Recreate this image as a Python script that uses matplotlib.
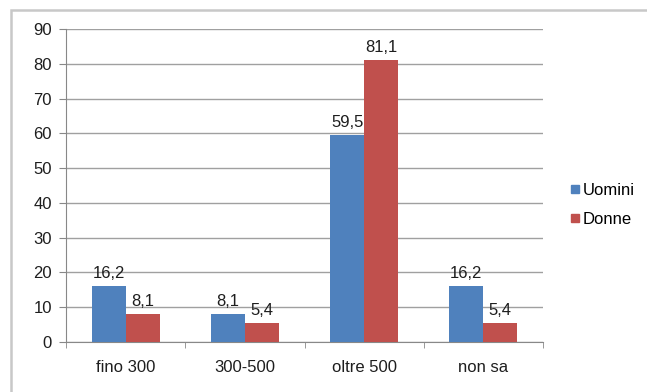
import matplotlib
matplotlib.use("Agg")
import matplotlib.pyplot as plt
import numpy as np
from matplotlib.patches import Rectangle
from matplotlib.lines import Line2D

plt.rcParams['font.family'] = ['Liberation Sans', 'DejaVu Sans']

categories = ["fino 300", "300-500", "oltre 500", "non sa"]
uomini = [16.2, 8.1, 59.5, 16.2]
donne = [8.1, 5.4, 81.1, 5.4]
series_names = ["Uomini", "Donne"]
colors = ["#4F81BD", "#C0504D"]
y_ticks = list(range(0, 91, 10))

FS = 12
TXT = "#1e1e1e"

fig = plt.figure(figsize=(6.47, 3.92), dpi=100)

# Chart frame
fig.patches.append(Rectangle((11 / 647, -0.1), 1.2, (392 - 10) / 392 + 0.1,
                             transform=fig.transFigure, fill=False,
                             edgecolor="#c8c8c8", linewidth=1.8, zorder=0))

ax = fig.add_axes([66 / 647, 50 / 392, 477 / 647, 313 / 392])

x = np.arange(len(categories))
w = 0.285
bars_u = ax.bar(x - w / 2, uomini, w, color=colors[0], zorder=3)
bars_d = ax.bar(x + w / 2, donne, w, color=colors[1], zorder=3)

for bars, vals in ((bars_u, uomini), (bars_d, donne)):
    for b, v in zip(bars, vals):
        ax.annotate(f"{v:.1f}".replace(".", ","),
                    (b.get_x() + b.get_width() / 2, v),
                    xytext=(0, 3.5), textcoords="offset points",
                    ha="center", va="bottom", fontsize=FS, color=TXT)

ax.set_xlim(-0.5, len(categories) - 0.5)
ax.set_ylim(0, 90)
ax.set_yticks(y_ticks)
ax.set_yticklabels([str(t) for t in y_ticks], fontsize=FS, color=TXT)
ax.set_xticks(x)
ax.set_xticklabels(categories, fontsize=FS, color=TXT)
ax.set_xticks(np.arange(-0.5, len(categories), 1.0), minor=True)
ax.tick_params(axis="x", which="major", length=0, pad=13)
ax.tick_params(axis="x", which="minor", length=4, color="#888888", direction="out")
ax.tick_params(axis="y", length=5, color="#888888", pad=5)

ax.grid(axis="y", color="#a0a0a0", linewidth=1.0, zorder=0)
for s in ("top", "right"):
    ax.spines[s].set_visible(False)
ax.spines["left"].set_color("#888888")
ax.spines["bottom"].set_color("#888888")

handles = [Line2D([], [], marker="s", linestyle="none", markersize=5.2,
                  color=c) for c in colors]
fig.legend(handles, series_names, loc="center left",
           bbox_to_anchor=(571 / 647, 1 - 205 / 392),
           frameon=False, fontsize=FS, handlelength=0.5,
           handletextpad=0.2, labelspacing=0.8, borderaxespad=0, borderpad=0)

fig.savefig("out.png", dpi=100)
